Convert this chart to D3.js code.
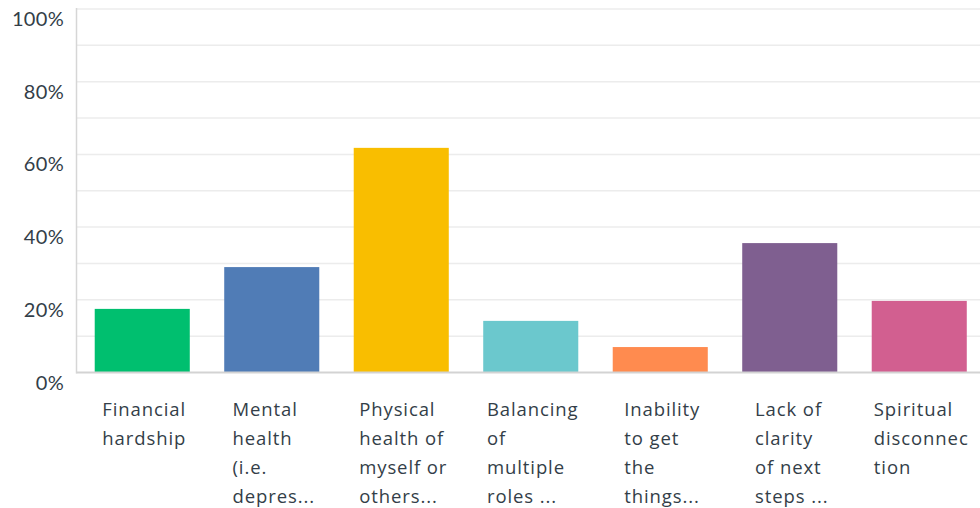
<!DOCTYPE html>
<html>
<head>
<meta charset="utf-8">
<script src="https://cdn.jsdelivr.net/npm/d3@7"></script>
<style>
  html, body { margin: 0; padding: 0; background: #fff; }
  svg { display: block; }
</style>
</head>
<body>
<svg id="chart" width="980" height="508"></svg>
<script>
const categories = [
  ["Financial", "hardship"],
  ["Mental", "health", "(i.e.", "depres..."],
  ["Physical", "health of", "myself or", "others..."],
  ["Balancing", "of", "multiple", "roles ..."],
  ["Inability", "to get", "the", "things..."],
  ["Lack of", "clarity", "of next", "steps ..."],
  ["Spiritual", "disconnec", "tion"]
];
const values = [17.5, 29.0, 61.8, 14.2, 7.0, 35.6, 19.7];
const colors = ["#00bf6f", "#507cb6", "#f9be00", "#6bc8cd", "#ff8b4f", "#7f5f90", "#d25f90"];
const tickValues = [0, 20, 40, 60, 80, 100];
const gridValues = [10, 20, 30, 40, 50, 60, 70, 80, 90, 100];

const svg = d3.select("#chart");
const plotLeft = 76.5, plotRight = 980, plotTop = 9, plotBottom = 372.5;

const y = d3.scaleLinear().domain([0, 100]).range([plotBottom, plotTop]);
const x = d3.scaleBand()
  .domain(d3.range(values.length))
  .range([77.5, 984])
  .paddingInner(0.266)
  .paddingOuter(0.133);

// gridlines
svg.append("g").selectAll("line").data(gridValues).join("line")
  .attr("x1", plotLeft).attr("x2", plotRight)
  .attr("y1", d => y(d)).attr("y2", d => y(d))
  .attr("stroke", "#ececec").attr("stroke-width", 1.5);

// bars
svg.append("g").selectAll("rect").data(values).join("rect")
  .attr("x", (d, i) => x(i))
  .attr("width", x.bandwidth())
  .attr("y", d => y(d))
  .attr("height", d => y(0) - y(d))
  .attr("fill", (d, i) => colors[i]);

// axes lines
svg.append("line")
  .attr("x1", plotLeft).attr("x2", plotLeft)
  .attr("y1", plotTop - 1).attr("y2", plotBottom + 1)
  .attr("stroke", "#d6d6d6").attr("stroke-width", 1.5);
svg.append("line")
  .attr("x1", plotLeft).attr("x2", plotRight)
  .attr("y1", plotBottom).attr("y2", plotBottom)
  .attr("stroke", "#d3d3d3").attr("stroke-width", 2);

// y tick labels
svg.append("g").selectAll("text").data(tickValues).join("text")
  .attr("x", 64)
  .attr("y", d => y(d) + 17)
  .attr("text-anchor", "end")
  .attr("font-family", "Lato, 'Open Sans', sans-serif")
  .attr("font-size", 20)
  .attr("letter-spacing", 0.3)
  .attr("fill", "#333e48")
  .text(d => d + "%");

// category labels
const lg = svg.append("g").selectAll("g").data(categories).join("g");
lg.each(function(lines, i) {
  const g = d3.select(this);
  const t = g.append("text")
    .attr("font-family", "'Open Sans', 'Noto Sans', sans-serif")
    .attr("font-size", 18.5)
    .attr("letter-spacing", 0.9)
    .attr("fill", "#333e48");
  t.selectAll("tspan").data(lines).join("tspan")
    .attr("x", 0)
    .attr("y", (d, j) => 416 + j * 29)
    .text(d => d);
  let maxW = 0;
  t.selectAll("tspan").each(function() {
    maxW = Math.max(maxW, this.getComputedTextLength());
  });
  const cx = x(i) + x.bandwidth() / 2;
  g.attr("transform", `translate(${cx - maxW / 2 + 2},0)`);
});
</script>
</body>
</html>
